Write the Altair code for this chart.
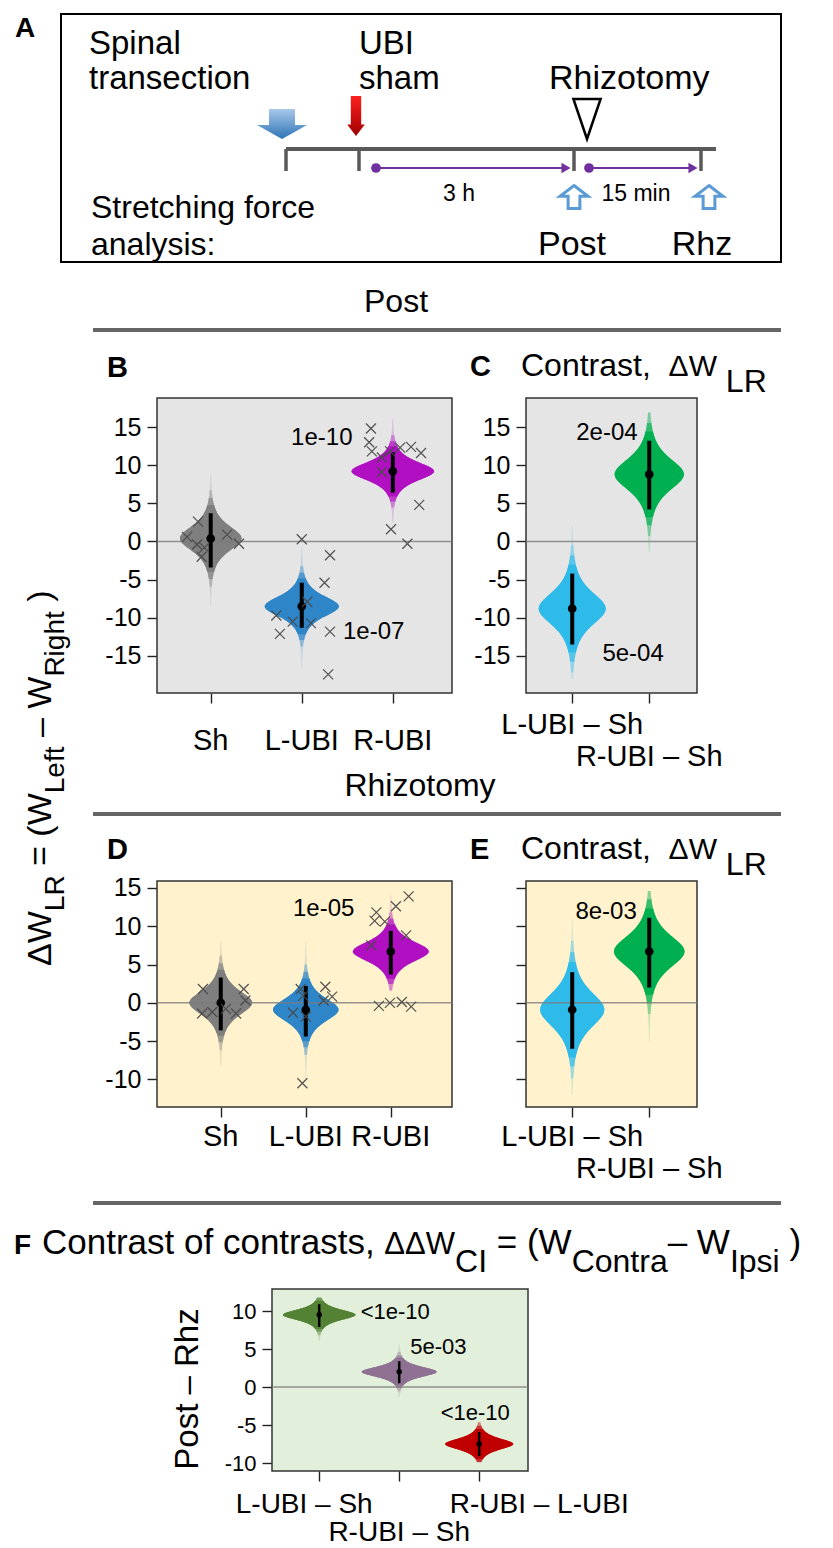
import altair as alt
import pandas as pd

SANS = "Liberation Sans, Arial, sans-serif"

# ------------------------------------------------------------------ data
# B: Post, raw groups
B_groups = ["Sh", "L-UBI", "R-UBI"]
B_mean = [0.4, -8.5, 9.2]
B_ci_lo = [-3.4, -11.3, 6.4]
B_ci_hi = [3.7, -5.4, 11.7]
B_tail_lo = [-8.5, -16.5, 2.5]
B_tail_hi = [8.8, -0.5, 16.0]
B_pt_group = [1] * 7 + [2] * 10 + [3] * 12
B_pt_jitter = [-0.14, -0.26, -0.15, -0.07, -0.10, 0.18, 0.31,
               0.00, 0.31, 0.25, 0.06, -0.28, -0.24, -0.10, 0.10, 0.31, 0.29,
               -0.24, -0.26, -0.23, -0.12, -0.03, 0.08, 0.20, 0.31, -0.12, 0.29, -0.02, 0.16]
B_pt_value = [2.6, 0.6, -0.4, -0.8, -2.0, 0.9, -0.3,
              0.3, -1.8, -5.4, -7.9, -9.7, -12.1, -10.5, -10.7, -11.8, -17.4,
              14.8, 13.0, 11.8, 11.0, 11.8, 12.3, 12.4, 11.6, 9.1, 4.8, 1.6, -0.3]
B_pval = ["1e-10", "1e-07"]
B_pval_x = [2.22, 2.79]
B_pval_y = [13.6, -11.8]

# C: Post, contrasts
C_groups = ["L-UBI \u2013 Sh", "R-UBI \u2013 Sh"]
C_mean = [-8.8, 8.8]
C_ci_lo = [-13.5, 4.2]
C_ci_hi = [-4.2, 13.2]
C_tail_lo = [-18.0, -1.4]
C_tail_hi = [2.0, 16.9]
C_pval = ["2e-04", "5e-04"]
C_pval_x = [1.45, 1.79]
C_pval_y = [14.2, -14.8]

# D: Rhizotomy, raw groups
D_groups = ["Sh", "L-UBI", "R-UBI"]
D_mean = [0.0, -0.9, 6.7]
D_ci_lo = [-3.6, -4.4, 3.7]
D_ci_hi = [3.3, 2.2, 9.4]
D_tail_lo = [-8.2, -10.0, 1.6]
D_tail_hi = [8.0, 8.1, 14.0]
D_pt_group = [1] * 7 + [2] * 8 + [3] * 11
D_pt_jitter = [-0.21, -0.22, -0.10, 0.06, 0.18, 0.27, 0.29,
               -0.06, -0.03, -0.15, 0.00, 0.23, 0.31, 0.21, -0.04,
               -0.17, -0.19, -0.07, -0.23, 0.06, 0.21, 0.18, -0.14, -0.01, 0.13, 0.24]
D_pt_value = [1.8, -1.4, -1.2, -0.8, -1.4, 1.8, 0.3,
              1.8, 0.9, -1.3, -1.8, 2.1, 0.8, 0.3, -10.5,
              11.8, 10.7, 10.6, 7.5, 12.6, 13.9, 8.8, -0.4, 0.0, 0.1, -0.5]
D_pval = ["1e-05"]
D_pval_x = [2.21]
D_pval_y = [12.3]

# E: Rhizotomy, contrasts
E_groups = ["L-UBI \u2013 Sh", "R-UBI \u2013 Sh"]
E_mean = [-0.9, 6.7]
E_ci_lo = [-6.0, 2.0]
E_ci_hi = [4.0, 11.1]
E_tail_lo = [-12.0, -5.0]
E_tail_hi = [11.0, 14.6]
E_pval = ["8e-03"]
E_pval_x = [1.44]
E_pval_y = [11.8]

# F: contrast of contrasts (Post - Rhz)
F_groups = ["L-UBI \u2013 Sh", "R-UBI \u2013 Sh", "R-UBI \u2013 L-UBI"]
F_mean = [9.5, 2.0, -7.5]
F_ci_lo = [7.9, 0.5, -9.1]
F_ci_hi = [10.9, 3.4, -5.9]
F_tail_lo = [6.1, -1.3, -9.9]
F_tail_hi = [11.8, 5.6, -4.6]
F_pval = ["<1e-10", "5e-03", "<1e-10"]
F_pval_x = [1.95, 2.49, 2.95]
F_pval_y = [9.9, 5.3, -3.4]

COL_RAW = ["#7f7f7f", "#2e86c8", "#b010c2"]
COL_CON = ["#2ebbea", "#00b050"]
COL_F = ["#548235", "#8e7192", "#c00000"]

# ------------------------------------------------------------------ helpers
DUMMY = pd.DataFrame({"d": [0]})
OX, OY = 8, 8  # the decoration canvas starts at the page margin

CW = {" ": 278, "(": 333, ")": 333, ",": 278, "-": 333, ".": 278, ":": 278, "<": 584, "=": 584,
      "\u2013": 556, "\u2212": 584, "\u0394": 668}
for ch in "0123456789":
    CW[ch] = 556
CW.update(dict(zip("ABCDEFGHIJKLMNOPQRSTUVWXYZ",
                   [667, 667, 722, 722, 667, 611, 778, 722, 278, 500, 667, 556, 833, 722, 778, 667, 778, 722,
                    667, 611, 722, 667, 944, 667, 667, 611])))
CW.update(dict(zip("abcdefghijklmnopqrstuvwxyz",
                   [556, 556, 500, 556, 556, 278, 556, 556, 222, 222, 500, 222, 833, 556, 556, 556, 556, 333,
                    500, 278, 556, 500, 722, 500, 500, 500])))


def tw(s, size):
    return sum(CW.get(c, 556) for c in s) * size / 1000.0


def txt(s, x, y, size, weight="normal", align="left", angle=0, color="black", baseline="alphabetic"):
    kw = dict(text=s, fontSize=size, font=SANS, fontWeight=weight, align=align,
              baseline=baseline, color=color)
    if angle:
        kw["angle"] = angle
    return alt.Chart(DUMMY).mark_text(**kw).encode(x=alt.value(x - OX), y=alt.value(y - OY))


def rich(pieces, x0, y0, angle=0):
    out = []
    pos = 0.0
    for s, size, shift in pieces:
        lead = len(s) - len(s.lstrip(" "))
        core = s.strip(" ")
        start = pos + tw(" " * lead, size)
        if angle == 0:
            out.append(txt(core, x0 + start, y0 + shift, size))
        else:
            out.append(txt(core, x0 + shift, y0 - start, size, angle=angle))
        pos += tw(s, size)
    return out


def hline(x1, x2, y, color="#666666", width=4):
    return alt.Chart(DUMMY).mark_rule(color=color, strokeWidth=width).encode(
        x=alt.value(x1 - OX), x2=alt.value(x2 - OX), y=alt.value(y - OY))


def vline(x, y1, y2, color="#595959", width=3.5):
    return alt.Chart(DUMMY).mark_rule(color=color, strokeWidth=width).encode(
        x=alt.value(x - OX), y=alt.value(y1 - OY), y2=alt.value(y2 - OY))


def sym(x, y, shape, size, **kw):
    return alt.Chart(DUMMY).mark_point(shape=shape, size=size, **kw).encode(
        x=alt.value(x - OX), y=alt.value(y - OY))


def empty(w, h):
    return alt.Chart(DUMMY).mark_point(opacity=0).encode(
        x=alt.value(0), y=alt.value(0)).properties(
        width=w, height=h, view=alt.ViewBackground(stroke="transparent"))


CROSS = "M-1,-1L1,1M-1,1L1,-1"


def panel(groups, mean, lo, hi, tlo, thi, cols, K, xdom, ydom, W, H, bg, yticks, ylabels,
          label_line, label_base, pvals, pval_x, pval_y, pt_group=None, pt_jitter=None,
          pt_value=None, dot=75, ciw=4, annsize=24, ylabsize=25, xlabsize=29,
          xrange=None, yoffset=0, label_dx=None):
    n = len(groups)
    cx = list(range(1, n + 1))
    if label_dx is None:
        label_dx = [0] * n
    if xrange is None:
        xs = alt.Scale(domain=xdom, nice=False, zero=False)
    else:
        xs = alt.Scale(domain=xdom, range=xrange, nice=False, zero=False)
    ys = alt.Scale(domain=ydom, nice=False, zero=False)
    yaxis = alt.Axis(values=yticks, labelExpr="datum.value + ''", tickSize=10, tickWidth=1.4,
                     tickColor="#222222", domain=False, grid=False, labels=ylabels,
                     labelFontSize=ylabsize, labelFont=SANS, labelColor="black", labelPadding=6,
                     title=None, offset=yoffset)
    xaxis = alt.Axis(values=cx, tickSize=10, tickWidth=1.4, tickColor="#222222", domain=False,
                     grid=False, labels=False, title=None)

    def X(f, **kw):
        return alt.X(f, scale=xs, axis=xaxis, **kw)

    def Y(f):
        return alt.Y(f, scale=ys, axis=yaxis)

    frame = pd.DataFrame(dict(x0=[xdom[0]], x1=[xdom[1]], y0=[ydom[0]], y1=[ydom[1]], z0=[0]))
    bgrect = alt.Chart(frame).mark_rect(fill=bg, stroke="#333333", strokeWidth=1.5).encode(
        x=X("x0:Q"), x2="x1:Q", y=Y("y0:Q"), y2="y1:Q")
    vdf = pd.DataFrame(dict(cx=cx, m=mean, lo=lo, hi=hi, tlo=tlo, thi=thi, col=cols,
                            id=["v%d" % i for i in cx]))
    base = (alt.Chart(vdf)
            .transform_calculate(s="(datum.hi - datum.lo) / 4")
            .transform_calculate(u="sequence(0, 1.0001, 0.004)")
            .transform_flatten(["u"])
            .transform_calculate(yy="datum.tlo + datum.u * (datum.thi - datum.tlo)")
            .transform_calculate(z="(datum.yy - datum.m) / datum.s")
            .transform_calculate(w="%f / datum.s * pow(1 + datum.z * datum.z / 3, -2)" % K)
            .transform_calculate(xl="datum.cx - datum.w")
            .transform_calculate(xr="datum.cx + datum.w"))
    enc = dict(y=Y("yy:Q"), x=X("xl:Q", stack=None), x2="xr:Q",
               color=alt.Color("col:N", scale=None), detail="id:N")
    layers = [bgrect]
    for zlim, op in [(99, 0.18), (3.6, 0.35), (3.0, 0.6), (2.5, 1.0)]:
        layers.append(base.transform_filter("abs(datum.z) <= %f" % zlim).mark_area(
            orient="horizontal", opacity=op).encode(**enc))
    zero = alt.Chart(frame).mark_rule(color="#7a7a7a", strokeWidth=1.6, opacity=0.8).encode(
        x=X("x0:Q"), x2="x1:Q", y=Y("z0:Q"))
    ci = alt.Chart(vdf).mark_rule(strokeWidth=ciw, color="black").encode(
        x=X("cx:Q"), y=Y("lo:Q"), y2="hi:Q")
    dots = alt.Chart(vdf).mark_circle(size=dot, color="black", opacity=1).encode(
        x=X("cx:Q"), y=Y("m:Q"))
    layers += [zero, ci, dots]
    if pt_group is not None:
        pdf = pd.DataFrame(dict(g=pt_group, j=pt_jitter, v=pt_value))
        pts = (alt.Chart(pdf).transform_calculate(xj="datum.g + datum.j")
               .mark_point(shape=CROSS, size=100, filled=False, color="#4a4a4a",
                           strokeWidth=1.2, opacity=0.95)
               .encode(x=X("xj:Q"), y=Y("v:Q")))
        layers.append(pts)
    adf = pd.DataFrame(dict(t=pvals, ax=pval_x, ay=pval_y))
    ann = alt.Chart(adf).mark_text(fontSize=annsize, font=SANS, align="center",
                                   baseline="middle", color="black").encode(
        x=X("ax:Q"), y=Y("ay:Q"), text="t:N")
    layers.append(ann)
    ldf = pd.DataFrame(dict(lab=groups, cx=cx, line=label_line))
    for i in range(n):
        layers.append(
            alt.Chart(ldf).transform_filter("datum.cx == %d" % cx[i])
            .mark_text(fontSize=xlabsize, font=SANS, align="center", baseline="alphabetic",
                       color="black", dx=label_dx[i])
            .encode(x=X("cx:Q"), y=alt.value(H + label_base[label_line[i]]), text="lab:N"))
    return alt.layer(*layers).properties(
        width=W, height=H, view=alt.ViewBackground(stroke="transparent"))


# ------------------------------------------------------------------ panel A schematic + all headings
BLUE_ARROW = "M-0.52,-0.6L0.52,-0.6L0.52,0.04L1,0.04L0,0.6L-1,0.04L-0.52,0.04Z"
RED_ARROW = "M-0.26,-1L0.26,-1L0.26,0.42L0.44,0.42L0,1L-0.44,0.42L-0.26,0.42Z"
TRI_DOWN = "M-0.68,-1L0.68,-1L0,1Z"
OPEN_UP = "M0,-0.82L1,-0.05L0.42,-0.05L0.42,0.82L-0.42,0.82L-0.42,-0.05L-1,-0.05Z"
PURPLE = "#7030a0"

blue_grad = alt.LinearGradient(gradient="linear", x1=0, x2=0, y1=0, y2=1,
                               stops=[alt.GradientStop(color="#a9c8ea", offset=0),
                                      alt.GradientStop(color="#2e75b6", offset=1)])
red_grad = alt.LinearGradient(gradient="linear", x1=0, x2=0, y1=0, y2=1,
                              stops=[alt.GradientStop(color="#ff2020", offset=0),
                                     alt.GradientStop(color="#a00000", offset=1)])

A_layers = [
    alt.Chart(DUMMY).mark_rect(filled=False, stroke="black", strokeWidth=2).encode(
        x=alt.value(57 - OX), x2=alt.value(777 - OX), y=alt.value(10 - OY), y2=alt.value(258 - OY)),
    txt("A", 11, 33, 28, weight="bold"),
    txt("Spinal", 85, 50, 33),
    txt("transection", 85, 85, 33),
    txt("UBI", 355, 50, 33),
    txt("sham", 355, 85, 33),
    txt("Rhizotomy", 545, 85, 34),
    sym(278, 120, BLUE_ARROW, 2500, filled=True, fill=blue_grad, strokeOpacity=0, opacity=1),
    sym(352, 112, RED_ARROW, 1600, filled=True, fill=red_grad, strokeOpacity=0, opacity=1),
    sym(583, 115, TRI_DOWN, 1600, filled=True, fill="white", stroke="black", strokeWidth=2.5,
        opacity=1),
    hline(282, 712, 145, color="#595959", width=4),
    vline(282, 145, 167), vline(355, 145, 167), vline(570, 145, 167), vline(697, 145, 167),
    hline(372, 562, 164, color=PURPLE, width=2),
    hline(585, 689, 164, color=PURPLE, width=2),
    sym(562, 164, "triangle-right", 110, filled=True, color=PURPLE, opacity=1),
    sym(689, 164, "triangle-right", 110, filled=True, color=PURPLE, opacity=1),
    alt.Chart(DUMMY).mark_circle(size=95, color=PURPLE, opacity=1).encode(
        x=alt.value(372 - OX), y=alt.value(164 - OY)),
    alt.Chart(DUMMY).mark_circle(size=95, color=PURPLE, opacity=1).encode(
        x=alt.value(585 - OX), y=alt.value(164 - OY)),
    txt("3 h", 455, 197, 23, align="center"),
    txt("15 min", 632, 197, 23, align="center"),
    sym(570, 193, OPEN_UP, 784, filled=True, fill="white", stroke="#5b9bd5", strokeWidth=3,
        opacity=1),
    sym(705, 193, OPEN_UP, 784, filled=True, fill="white", stroke="#5b9bd5", strokeWidth=3,
        opacity=1),
    txt("Stretching  force", 87, 214, 32),
    txt("analysis:", 87, 251, 32),
    txt("Post", 568, 251, 34, align="center"),
    txt("Rhz", 698, 251, 34, align="center"),
]

SUB = 16
contrast_title = [("Contrast,  ", 32, 0), ("\u0394W", 30, 0), (" LR", 32, SUB)]
ytitle = rich([("\u0394W", 34, 0), ("LR", 28, 13), (" = (W", 34, 0), ("Left", 28, 13),
               (" \u2013 W", 34, 0), ("Right", 28, 13), (" )", 34, 0)], 47, 962, angle=270)
ftitle = rich([("Contrast of contrasts, ", 35, 0), ("\u0394\u0394W", 31, 0), ("CI", 32, 18),
               (" = (W", 35, 0), ("Contra", 32, 18), ("\u2013 W", 35, 0), ("Ipsi", 32, 18),
               (" )", 35, 0)], 38, 1250)

heading_layers = [
    txt("Post", 392, 308, 32, align="center"),
    hline(89, 777, 326),
    txt("B", 103, 373, 29, weight="bold"),
    txt("C", 466, 372, 29, weight="bold"),
    *rich(contrast_title, 517, 372),
    *ytitle,
    txt("Rhizotomy", 416, 792, 32, align="center"),
    hline(89, 777, 810),
    txt("D", 103, 855, 29, weight="bold"),
    txt("E", 466, 855, 29, weight="bold"),
    *rich(contrast_title, 517, 855),
    hline(89, 777, 1199),
    txt("F", 10, 1250, 28, weight="bold"),
    *ftitle,
    txt("Post \u2013 Rhz", 194, 1385, 33, align="center", angle=270),
]

canvas = alt.layer(*(A_layers + heading_layers)).properties(
    width=145, height=386, view=alt.ViewBackground(stroke="transparent"))

# ------------------------------------------------------------------ data panels
panelB = panel(B_groups, B_mean, B_ci_lo, B_ci_hi, B_tail_lo, B_tail_hi, COL_RAW, 0.60,
               [0.41, 3.65], [-19.85, 18.8], 295, 295, "#e5e5e5", [-15, -10, -5, 0, 5, 10, 15],
               True, [0, 0, 0], [57], B_pval, B_pval_x, B_pval_y,
               B_pt_group, B_pt_jitter, B_pt_value)
panelC = panel(C_groups, C_mean, C_ci_lo, C_ci_hi, C_tail_lo, C_tail_hi, COL_CON, 1.01,
               [0.40, 2.62], [-19.85, 18.8], 171, 295, "#e5e5e5", [-15, -10, -5, 0, 5, 10, 15],
               True, [0, 1], [41, 73], C_pval, C_pval_x, C_pval_y)
panelD = panel(D_groups, D_mean, D_ci_lo, D_ci_hi, D_tail_lo, D_tail_hi, COL_RAW, 0.635,
               [0.25, 3.72], [-13.6, 15.9], 295, 226, "#fff2cc", [-10, -5, 0, 5, 10, 15],
               True, [0, 0, 0], [39], D_pval, D_pval_x, D_pval_y,
               D_pt_group, D_pt_jitter, D_pt_value)
panelE = panel(E_groups, E_mean, E_ci_lo, E_ci_hi, E_tail_lo, E_tail_hi, COL_CON, 1.04,
               [0.40, 2.62], [-13.6, 15.9], 171, 226, "#fff2cc", [-10, -5, 0, 5, 10, 15],
               False, [0, 1], [39, 71], E_pval, E_pval_x, E_pval_y)
panelF = panel(F_groups, F_mean, F_ci_lo, F_ci_hi, F_tail_lo, F_tail_hi, COL_F, 0.34,
               [0.41, 3.61], [-11.05, 12.9], 295, 182, "#e2efda", [-10, -5, 0, 5, 10],
               True, [0, 1, 0], [42, 70], F_pval, F_pval_x, F_pval_y,
               dot=30, ciw=2.5, annsize=22, ylabsize=22, xlabsize=28,
               xrange=[115, 371], yoffset=-115, label_dx=[-15, 0, 60])

# ------------------------------------------------------------------ grid layout (4 columns)
cells = [
    canvas, empty(1, 1), empty(74, 1), empty(1, 1),
    empty(145, 295), panelB, empty(74, 1), panelC,
    empty(145, 188), empty(1, 1), empty(74, 1), empty(1, 1),
    empty(145, 226), panelD, empty(74, 1), panelE,
    empty(145, 182), empty(1, 1), empty(74, 1), empty(1, 1),
    empty(145, 182), panelF, empty(74, 1), empty(1, 1),
]
chart = (alt.concat(*cells, columns=4, spacing=0, bounds="flush", align="each")
         .properties(padding=0)
         .configure_view(strokeWidth=0)
         .configure(font=SANS))

chart.save("out.html", embed_options={"renderer": "svg", "actions": False})
